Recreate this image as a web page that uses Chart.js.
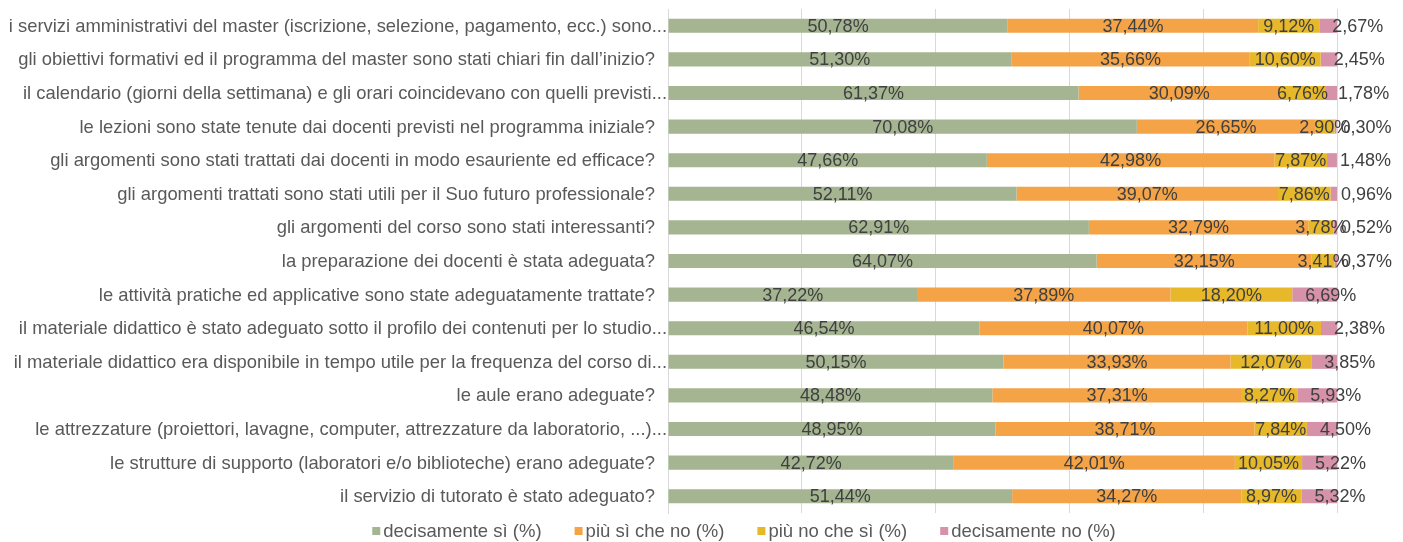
<!DOCTYPE html>
<html>
<head>
<meta charset="utf-8">
<script src="https://cdn.jsdelivr.net/npm/chart.js@4.4.1/dist/chart.umd.min.js"></script>
<style>
  html, body { margin: 0; padding: 0; background: #fff; }
  #wrap { width: 1403px; height: 542px; position: relative; }
</style>
</head>
<body>
<div id="wrap"><canvas id="chart"></canvas></div>
<script>
const questions = [
    "i servizi amministrativi del master (iscrizione, selezione, pagamento, ecc.) sono...",
    "gli obiettivi formativi ed il programma del master sono stati chiari fin dall’inizio?",
    "il calendario (giorni della settimana) e gli orari coincidevano con quelli previsti...",
    "le lezioni sono state tenute dai docenti previsti nel programma iniziale?",
    "gli argomenti sono stati trattati dai docenti in modo esauriente ed efficace?",
    "gli argomenti trattati sono stati utili per il Suo futuro professionale?",
    "gli argomenti del corso sono stati interessanti?",
    "la preparazione dei docenti è stata adeguata?",
    "le attività pratiche ed applicative sono state adeguatamente trattate?",
    "il materiale didattico è stato adeguato sotto il profilo dei contenuti per lo studio...",
    "il materiale didattico era disponibile in tempo utile per la frequenza del corso di...",
    "le aule erano adeguate?",
    "le attrezzature (proiettori, lavagne, computer, attrezzature da laboratorio, ...)...",
    "le strutture di supporto (laboratori e/o biblioteche) erano adeguate?",
    "il servizio di tutorato è stato adeguato?"
];
const seriesNames = ["decisamente sì (%)", "più sì che no (%)", "più no che sì (%)", "decisamente no (%)"];
const decisamenteSi = [50.78, 51.30, 61.37, 70.08, 47.66, 52.11, 62.91, 64.07, 37.22, 46.54, 50.15, 48.48, 48.95, 42.72, 51.44];
const piuSiCheNo = [37.44, 35.66, 30.09, 26.65, 42.98, 39.07, 32.79, 32.15, 37.89, 40.07, 33.93, 37.31, 38.71, 42.01, 34.27];
const piuNoCheSi = [9.12, 10.60, 6.76, 2.90, 7.87, 7.86, 3.78, 3.41, 18.20, 11.00, 12.07, 8.27, 7.84, 10.05, 8.97];
const decisamenteNo = [2.67, 2.45, 1.78, 0.30, 1.48, 0.96, 0.52, 0.37, 6.69, 2.38, 3.85, 5.93, 4.50, 5.22, 5.32];
const xTicks = [0, 20, 40, 60, 80, 100];

const colors = ['#A5B592', '#F4A346', '#E7B92A', '#D592A9'];
const FONT = "'Liberation Sans', Arial, sans-serif";

// category labels: truncated ones (ending with ...) run up to the axis like Excel does
const questionLabels = {
    id: 'questionLabels',
    afterDraw(chart) {
        const ctx = chart.ctx, y = chart.scales.y;
        ctx.save();
        ctx.font = '18.4px ' + FONT;
        ctx.fillStyle = '#595959';
        ctx.textAlign = 'right';
        ctx.textBaseline = 'middle';
        questions.forEach((q, i) => {
            const right = q.endsWith('...') ? y.right - 1 : y.right - 13;
            ctx.fillText(q, right, y.getPixelForTick(i) + 1);
        });
        ctx.restore();
    }
};

// data labels drawn in the segments (last series sits just past its segment start)
const valueLabels = {
    id: 'valueLabels',
    afterDatasetsDraw(chart) {
        const ctx = chart.ctx;
        ctx.save();
        ctx.font = '18px ' + FONT;
        ctx.fillStyle = '#404040';
        ctx.textBaseline = 'middle';
        chart.data.datasets.forEach((ds, di) => {
            chart.getDatasetMeta(di).data.forEach((bar, i) => {
                const txt = ds.data[i].toFixed(2).replace('.', ',') + '%';
                if (di === 3) {
                    ctx.textAlign = 'left';
                    ctx.fillText(txt, Math.min(bar.base + 13, bar.x + 4), bar.y + 1);
                } else {
                    ctx.textAlign = 'center';
                    ctx.fillText(txt, (bar.base + bar.x) / 2, bar.y + 1);
                }
            });
        });
        ctx.restore();
    }
};

// legend at the bottom, Excel style
const bottomLegend = {
    id: 'bottomLegend',
    afterDraw(chart) {
        const ctx = chart.ctx;
        ctx.save();
        ctx.font = '18.5px ' + FONT;
        ctx.textBaseline = 'middle';
        const box = 8, gap = 3, spacing = 33;
        const widths = seriesNames.map(n => box + gap + ctx.measureText(n).width);
        const total = widths.reduce((a, b) => a + b, 0) + spacing * (widths.length - 1);
        let x = 744 - total / 2;
        const y = 531;
        seriesNames.forEach((n, i) => {
            ctx.fillStyle = colors[i];
            ctx.fillRect(x, y - box / 2, box, box);
            ctx.fillStyle = '#595959';
            ctx.textAlign = 'left';
            ctx.fillText(n, x + box + gap, y + 1);
            x += widths[i] + spacing;
        });
        ctx.restore();
    }
};

new Chart(document.getElementById('chart'), {
    type: 'bar',
    data: {
        labels: questions,
        datasets: [decisamenteSi, piuSiCheNo, piuNoCheSi, decisamenteNo].map((d, i) => ({
            label: seriesNames[i],
            data: d,
            backgroundColor: colors[i],
            borderWidth: 0,
            barPercentage: 0.42,
            categoryPercentage: 1
        }))
    },
    options: {
        indexAxis: 'y',
        responsive: true,
        maintainAspectRatio: false,
        animation: false,
        layout: { padding: { top: 9, right: 66, bottom: 29, left: 0 } },
        scales: {
            x: {
                stacked: true,
                min: 0,
                max: 100,
                afterBuildTicks: s => { s.ticks = xTicks.map(v => ({ value: v })); },
                ticks: { display: false },
                grid: { color: '#D9D9D9', drawTicks: false },
                border: { display: false }
            },
            y: {
                stacked: true,
                afterFit: s => { s.width = 668; s.paddingTop = 0; s.paddingBottom = 0; },
                ticks: { display: false },
                grid: { color: 'transparent', drawTicks: false },
                border: { color: '#D9D9D9' }
            }
        },
        plugins: {
            legend: { display: false },
            tooltip: { enabled: false }
        }
    },
    plugins: [valueLabels, questionLabels, bottomLegend]
});
</script>
</body>
</html>
